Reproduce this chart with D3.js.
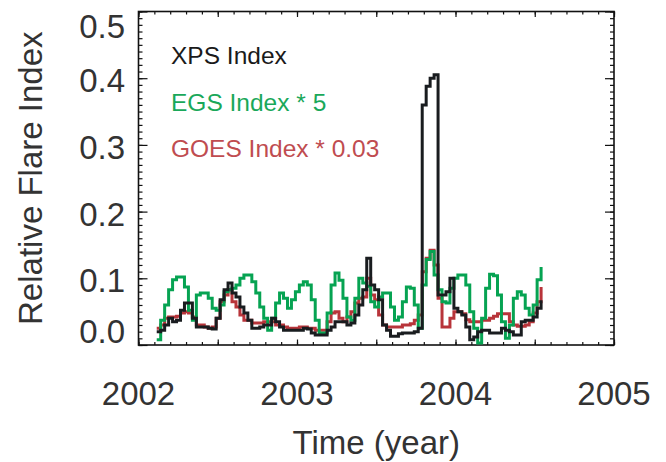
<!DOCTYPE html>
<html>
<head>
<meta charset="utf-8">
<script src="https://d3js.org/d3.v7.min.js"></script>
<style>
  body { margin: 0; background: #fff; }
  text { font-family: "Liberation Sans", Arial, sans-serif; }
</style>
</head>
<body>
<div id="wrapper"></div>
<script>
// time grid (year) and the three flare index series
var times = [
  2002.115,2002.140,2002.165,2002.190,2002.215,2002.240,2002.265,2002.290,2002.315,2002.340,
  2002.365,2002.390,2002.415,2002.440,2002.465,2002.490,2002.515,2002.540,2002.565,2002.590,
  2002.615,2002.640,2002.665,2002.690,2002.715,2002.740,2002.765,2002.790,2002.815,2002.840,
  2002.865,2002.890,2002.915,2002.940,2002.965,2002.990,
  2003.015,2003.040,2003.065,2003.090,2003.115,2003.140,2003.165,2003.190,2003.215,2003.240,
  2003.265,2003.290,2003.315,2003.340,2003.365,2003.390,2003.415,2003.440,2003.465,2003.490,
  2003.515,2003.540,2003.565,2003.590,2003.615,2003.640,2003.665,2003.690,2003.715,2003.740,
  2003.765,2003.790,2003.815,2003.840,2003.865,2003.890,2003.915,2003.940,2003.965,2003.990,
  2004.015,2004.040,2004.065,2004.090,2004.115,2004.140,2004.165,2004.190,2004.215,2004.240,
  2004.265,2004.290,2004.315,2004.340,2004.365,2004.390,2004.415,2004.440,2004.465,2004.490,
  2004.515,2004.540
];

var xps = [
  0.02,0.022,0.03,0.04,0.035,0.037,0.052,0.063,0.063,0.04,
  0.027,0.027,0.027,0.025,0.024,0.04,0.068,0.083,0.093,0.078,
  0.072,0.057,0.048,0.037,0.025,0.025,0.027,0.03,0.03,0.04,
  0.035,0.027,0.022,0.022,0.022,0.022,0.022,0.025,0.024,0.018,
  0.015,0.015,0.015,0.022,0.027,0.035,0.035,0.035,0.03,0.033,
  0.045,0.06,0.083,0.13,0.09,0.083,0.068,0.03,0.022,0.013,
  0.013,0.017,0.018,
  0.018,0.018,0.02,0.025,0.36,0.388,0.4,0.405,0.075,0.075,0.08,0.1,0.055,
  0.05,0.045,0.027,0.008,0.012,0.02,0.022,0.022,0.018,0.018,0.018,0.025,0.022,0.02,0.015,0.015,
  0.035,0.037,0.037,0.042,0.055,0.067
];

var egs = [
  0.008,0.037,0.06,0.083,0.098,0.102,0.102,0.087,0.052,0.037,
  0.075,0.078,0.078,0.07,0.055,0.052,0.06,0.08,0.083,0.085,
  0.09,0.1,0.105,0.105,0.095,0.078,0.057,0.04,0.022,0.04,
  0.063,0.078,0.07,0.055,0.068,0.08,0.09,0.095,0.09,0.068,
  0.037,0.018,0.018,0.048,0.09,0.108,0.097,0.07,0.042,0.037,
  0.07,0.1,0.093,0.088,0.065,0.057,0.072,0.078,0.078,0.057,
  0.037,0.042,0.065,
  0.087,0.085,0.06,0.025,0.09,0.128,0.14,0.105,0.083,0.065,0.063,0.085,0.1,
  0.105,0.105,0.09,0.05,0.025,0.003,0.04,0.085,0.106,0.104,0.075,0.035,0.01,0.03,0.07,
  0.08,0.075,0.055,0.045,0.06,0.098,0.117
];

var goes = [
  0.025,0.03,0.04,0.042,0.042,0.043,0.048,0.05,0.048,0.042,
  0.03,0.03,0.027,0.025,0.027,0.04,0.065,0.075,0.083,0.065,
  0.057,0.045,0.037,0.037,0.033,0.033,0.033,0.035,0.035,0.035,
  0.03,0.03,0.027,0.025,0.025,0.025,0.027,0.027,0.025,0.025,
  0.022,0.022,0.022,0.035,0.048,0.05,0.04,0.035,0.042,0.05,
  0.063,0.07,0.072,0.1,0.075,0.068,0.045,0.03,0.027,0.027,
  0.027,0.027,0.03,
  0.03,0.032,0.037,0.045,0.11,0.13,0.142,0.12,0.07,0.027,0.027,0.04,0.05,
  0.05,0.047,0.038,0.035,0.035,0.035,0.037,0.037,0.04,0.043,0.047,0.047,0.047,0.035,0.03,
  0.028,0.028,0.03,0.035,0.048,0.065,0.087
];

var yearLabels = [2002, 2003, 2004, 2005];
var yLabels = ["0.0", "0.1", "0.2", "0.3", "0.4", "0.5"];
var legendNames = ["XPS Index", "EGS Index * 5", "GOES Index * 0.03"];

var W = 666, H = 462;
var plotL = 138.5, plotR = 614, plotT = 11.5, plotB = 345;

var svg = d3.select("#wrapper").append("svg")
  .attr("width", W).attr("height", H);

var x = d3.scaleLinear().domain([2002, 2005]).range([plotL, plotR]);
var y = d3.scaleLinear().domain([0, 0.5]).range([plotB, plotT]);

// tick positions: majors every half year / 0.1, minors every 0.1 yr / 0.01
var xMajor = d3.range(2002, 2005.01, 0.5);
var xMinor = d3.range(2002, 2005.001, 0.1);
var yMajor = d3.range(0, 0.501, 0.1);
var yMinor = d3.range(0, 0.5001, 0.01);

function tickAxis(axis, pos, vals, size) {
  var g = svg.append("g")
    .attr("transform", pos)
    .call(axis.tickValues(vals).tickSize(-size).tickFormat(""));
  g.select(".domain").remove();
  g.selectAll("line").attr("stroke", "#111").attr("stroke-width", 1.2);
}
tickAxis(d3.axisBottom(x), "translate(0," + plotB + ")", xMinor, 3);
tickAxis(d3.axisBottom(x), "translate(0," + plotB + ")", xMajor, 5.5);
tickAxis(d3.axisTop(x), "translate(0," + plotT + ")", xMinor, 3);
tickAxis(d3.axisTop(x), "translate(0," + plotT + ")", xMajor, 5.5);
tickAxis(d3.axisLeft(y), "translate(" + plotL + ",0)", yMinor, 4);
tickAxis(d3.axisLeft(y), "translate(" + plotL + ",0)", yMajor, 9);
tickAxis(d3.axisRight(y), "translate(" + plotR + ",0)", yMinor, 4);
tickAxis(d3.axisRight(y), "translate(" + plotR + ",0)", yMajor, 9);

svg.append("rect")
  .attr("x", plotL).attr("y", plotT)
  .attr("width", plotR - plotL).attr("height", plotB - plotT)
  .attr("fill", "none").attr("stroke", "#111").attr("stroke-width", 1.6);

// series lines (histogram style steps)
var series = [
  { vals: goes, color: "#b8343a" },
  { vals: egs,  color: "#06a352" },
  { vals: xps,  color: "#191c1f" }
];
var line = d3.line()
  .x(function(d) { return x(d[0]); })
  .y(function(d) { return y(d[1]); })
  .curve(d3.curveStepAfter);

series.forEach(function(s) {
  svg.append("path")
    .datum(times.map(function(t, i) { return [t, s.vals[i]]; }))
    .attr("d", line)
    .attr("fill", "none")
    .attr("stroke", s.color)
    .attr("stroke-width", 3)
    .attr("stroke-linejoin", "miter");
});

// tick labels
svg.selectAll(".xl").data(yearLabels).enter().append("text")
  .attr("x", function(d) { return x(d); })
  .attr("y", 405)
  .attr("text-anchor", "middle")
  .attr("font-size", 33)
  .attr("fill", "#333")
  .text(function(d) { return d; });

svg.selectAll(".yl").data(yLabels).enter().append("text")
  .attr("x", 125)
  .attr("y", function(d, i) {
    var off = 14;
    if (i == 0) off = -2;
    if (i == yLabels.length - 1) off = 26;
    return y(+d) + off;
  })
  .attr("text-anchor", "end")
  .attr("font-size", 33)
  .attr("fill", "#333")
  .text(function(d) { return d; });

// axis titles
svg.append("text")
  .attr("x", (plotL + plotR) / 2)
  .attr("y", 454)
  .attr("text-anchor", "middle")
  .attr("font-size", 33)
  .attr("fill", "#333")
  .text("Time (year)");

svg.append("text")
  .attr("transform", "translate(42," + (plotT + plotB) / 2 + ") rotate(-90)")
  .attr("text-anchor", "middle")
  .attr("font-size", 33)
  .attr("fill", "#333")
  .text("Relative Flare Index");

// legend text
var legendColors = ["#1a1a1a", "#1aa85a", "#c04c50"];
svg.selectAll(".lg").data(legendNames).enter().append("text")
  .attr("x", 171)
  .attr("y", function(d, i) { return 64 + i * 46.5; })
  .attr("font-size", 24.5)
  .attr("fill", function(d, i) { return legendColors[i]; })
  .text(function(d) { return d; });
</script>
</body>
</html>
